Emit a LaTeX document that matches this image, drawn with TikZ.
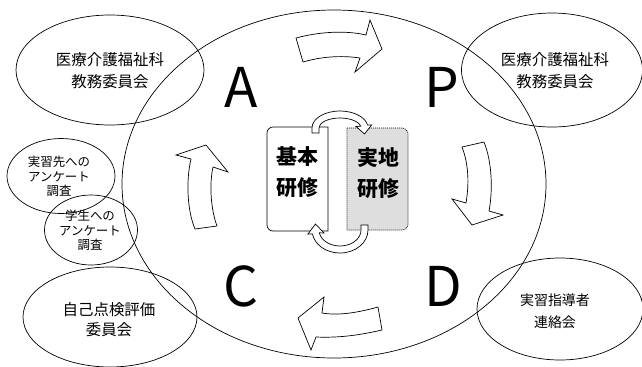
\documentclass[tikz,border=0pt]{standalone}
\usepackage{fontspec}
\setmainfont{Noto Sans CJK JP}
\usetikzlibrary{shapes.geometric}
\begin{document}
\begin{tikzpicture}[x=1bp,y=-1bp,line width=0.7bp,
  ring/.style={draw,ellipse,inner sep=0pt},
  lbl/.style={align=center,inner sep=0pt},
  biglbl/.style={lbl,font=\fontsize{15.5}{22}\selectfont},
  smalllbl/.style={lbl,font=\fontsize{12.5}{14.5}\selectfont},
  letter/.style={inner sep=0pt,font=\fontsize{55}{55}\selectfont},
  corelbl/.style={lbl,font=\fontsize{21}{31}\selectfont\bfseries},
  hollow/.style={draw,fill=white,line width=0.7bp,line join=miter}]
\useasboundingbox (0,0) rectangle (642,366);

% big ellipse
\node[ring,minimum width=424bp,minimum height=348bp] (big) at (334,184) {};

% surrounding ellipses
\node[ring,minimum width=188bp,minimum height=110bp] (tl) at (110,70) {};
\node[ring,minimum width=181bp,minimum height=114bp] (tr) at (552,70) {};
\node[ring,minimum width=108bp,minimum height=75bp] (s1) at (61,176) {};
\node[ring,minimum width=93bp,minimum height=70bp] (s2) at (91,230) {};
\node[ring,minimum width=174bp,minimum height=100bp] (bl) at (110,317) {};
\node[ring,minimum width=166bp,minimum height=102bp] (br) at (560,309) {};

\node[biglbl] (tlt) at (110,71) {医療介護福祉科\\教務委員会};
\node[biglbl] (trt) at (555,71) {医療介護福祉科\\教務委員会};
\node[smalllbl] (s1t) at (59,176.5) {実習先への\\アンケート\\調査};
\node[smalllbl] (s2t) at (90,230.5) {学生への\\アンケート\\調査};
\node[biglbl,font=\fontsize{15.5}{20}\selectfont] (blt) at (109,320) {自己点検評価\\委員会};
\node[biglbl,font=\fontsize{14}{22}\selectfont] (brt) at (555,311) {実習指導者\\連絡会};

% PDCA letters
\node[letter] (A) at (241,87) {A};
\node[letter] (P) at (442,87) {P};
\node[letter] (C) at (241,286) {C};
\node[letter] (D) at (443,286) {D};

% big hollow arrows
\draw[hollow] (296,38) .. controls (318,32) and (345,30) .. (366,35) -- (370,20) -- (382,49) -- (355,72) -- (360,58) .. controls (340,55) and (320,57) .. (303,62) -- cycle;
\draw[hollow] (462,147) -- (484,142) .. controls (492,162) and (493,190) .. (489,211) -- (503,215) -- (472,225) -- (452,199) -- (466,203) .. controls (469,185) and (469,165) .. (462,147) -- cycle;
\draw[hollow] (298,318) -- (324,297) -- (322,313) .. controls (340,316) and (360,312) .. (378,307) -- (382,330) .. controls (360,335) and (340,338) .. (316,337) -- (311,350) -- cycle;
\draw[hollow] (206,145) -- (228,172) -- (213,167) .. controls (209,185) and (211,210) .. (217,226) -- (195,229) .. controls (187,210) and (186,180) .. (191,159) -- (176,155) -- cycle;

% central boxes
\draw[fill=white] (328,127) -- (273,127) .. controls (269.7,127) and (267,129.7) .. (267,133) -- (267,225) .. controls (267,228.3) and (269.7,231) .. (273,231) -- (328,231) -- cycle;
\draw[fill=black!13,dash pattern=on 1bp off 1bp] (347,128) -- (402,128) .. controls (405.3,128) and (408,130.7) .. (408,134) -- (408,224) .. controls (408,227.3) and (405.3,230) .. (402,230) -- (347,230) -- cycle;
\node[corelbl] (kihon) at (297,172) {基本\\研修};
\node[corelbl] (jitchi) at (378,173) {実地\\研修};

% small circular arrows
\draw[hollow] (312,133) -- (312,128) arc[start angle=180,end angle=350,x radius=28,y radius=17] -- ++(4,0) -- (364.5,134) -- (356,126.5) -- (360.68,126.26) arc[start angle=350,end angle=180,x radius=21,y radius=10] -- (319,133) -- cycle;
\draw[hollow] (368,225) -- (368,230) arc[start angle=0,end angle=170,x radius=28,y radius=23] -- ++(-4.5,0) -- (315.5,224) -- (324,233) -- (319.32,232.78) arc[start angle=170,end angle=0,x radius=21,y radius=16] -- (361,225) -- cycle;
\end{tikzpicture}
\end{document}
